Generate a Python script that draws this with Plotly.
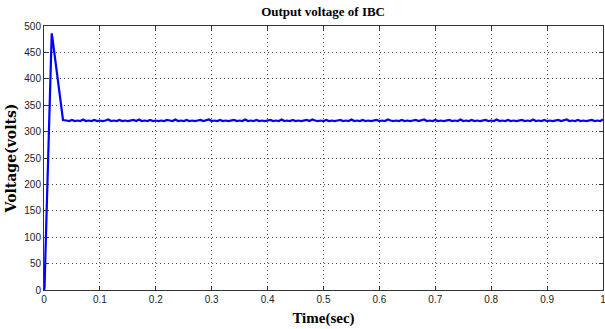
import plotly.graph_objects as go

# Transient part (time in s, voltage in V)
t_start = [0.0, 0.001, 0.003, 0.005, 0.007, 0.009, 0.011, 0.0125, 0.0138, 0.015,
           0.018, 0.022, 0.026, 0.030, 0.034]
v_start = [0, 5, 85, 165, 245, 325, 405, 465, 486, 478,
           455, 423, 390, 356, 322]

# Steady-state ripple samples (every 0.005 s from 0.04 to 1.0)
v_steady = [321, 320, 322, 320, 321, 320, 323, 320, 321, 320,
            322, 320, 321, 320, 321, 323, 320, 321, 320, 322,
            320, 321, 320, 321, 322, 320, 323, 320, 321, 320,
            322, 320, 321, 320, 321, 320, 322, 321, 320, 323,
            320, 321, 320, 322, 320, 321, 320, 321, 322, 320,
            321, 323, 320, 321, 320, 322, 320, 321, 320, 321,
            322, 320, 321, 320, 323, 320, 321, 320, 322, 320,
            321, 320, 321, 322, 320, 321, 320, 323, 320, 321,
            320, 322, 320, 321, 320, 321, 322, 320, 323, 321,
            320, 321, 320, 322, 320, 321, 320, 321, 322, 320,
            321, 320, 323, 320, 321, 320, 322, 320, 321, 320,
            321, 322, 320, 321, 320, 323, 321, 320, 321, 320,
            322, 320, 321, 320, 321, 322, 320, 321, 323, 320,
            321, 320, 322, 320, 321, 320, 321, 322, 320, 321,
            320, 323, 320, 321, 320, 322, 320, 321, 320, 321,
            322, 320, 321, 320, 323, 320, 321, 320, 322, 320,
            321, 320, 321, 322, 320, 321, 320, 323, 320, 321,
            320, 322, 320, 321, 320, 321, 322, 320, 321, 323,
            320, 321, 320, 322, 320, 321, 320, 321, 322, 320,
            321, 320, 323]
t_steady = [round(0.04 + 0.005 * i, 4) for i in range(len(v_steady))]

x_ticks = [0, 0.1, 0.2, 0.3, 0.4, 0.5, 0.6, 0.7, 0.8, 0.9, 1]
x_tick_text = ["0", "0.1", "0.2", "0.3", "0.4", "0.5", "0.6", "0.7", "0.8", "0.9", "1"]
y_ticks = [0, 50, 100, 150, 200, 250, 300, 350, 400, 450, 500]

t = t_start + t_steady
v = v_start + v_steady

fig = go.Figure()
fig.add_trace(go.Scatter(x=t, y=v, mode="lines",
                         line=dict(color="#0000ff", width=2.2), showlegend=False))

tickfont = dict(family="Liberation Sans Narrow, Arial Narrow, Liberation Sans, Arial",
                size=10, color="#222222")
axis_common = dict(showline=True, linecolor="#333333", linewidth=1, mirror="ticks",
                   ticks="inside", ticklen=4, tickcolor="#333333",
                   showgrid=True, gridcolor="#444444", gridwidth=1,
                   griddash="1px,3px", zeroline=False, tickfont=tickfont,
                   ticklabeloverflow="allow")

fig.update_xaxes(range=[0, 1], tickvals=x_ticks, ticktext=x_tick_text,
                 title=dict(text="<b>Time(sec)</b>", standoff=8,
                            font=dict(family="Liberation Serif, Times New Roman", size=15, color="black")),
                 **axis_common)
fig.update_yaxes(range=[0, 500], tickvals=y_ticks,
                 title=dict(text="<b>Voltage(volts)</b>", standoff=4,
                            font=dict(family="DejaVu Serif, Liberation Serif", size=14, color="black")),
                 **axis_common)

fig.update_layout(
    width=605, height=329,
    margin=dict(l=44, r=2, t=26, b=39, autoexpand=False),
    paper_bgcolor="white", plot_bgcolor="white",
    title=dict(text="<b>Output voltage of IBC</b>", x=0.534, xanchor="center",
               y=0.978, yanchor="top",
               font=dict(family="Liberation Serif, Times New Roman", size=13, color="black")),
)

fig.write_html("out.html", config={"displayModeBar": False},
               post_script="document.body.style.margin='0';document.body.style.overflow='hidden';")
